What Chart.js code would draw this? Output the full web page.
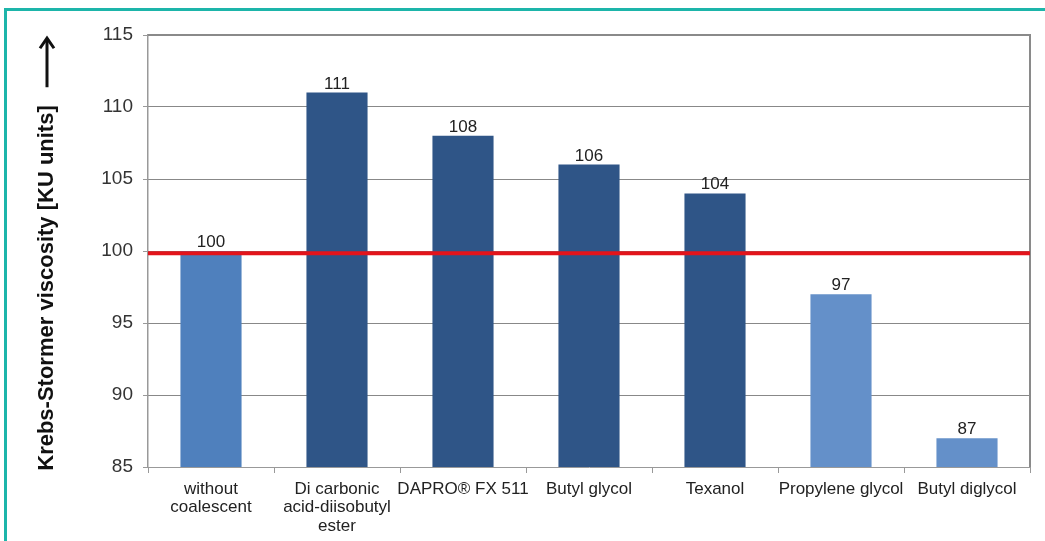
<!DOCTYPE html>
<html>
<head>
<meta charset="utf-8">
<script src="https://cdn.jsdelivr.net/npm/chart.js@4.4.1/dist/chart.umd.min.js"></script>
<style>
  html, body { margin: 0; padding: 0; background: #fff; }
  #wrap { position: relative; width: 1045px; height: 541px; }
  #frame { position: absolute; left: 4px; top: 8px; right: 0; bottom: 0;
           border-left: 3px solid #1db5aa; border-top: 3px solid #1db5aa; pointer-events: none; }
  canvas { position: absolute; left: 0; top: 0; }
</style>
</head>
<body>
<div id="wrap">
  <canvas id="viscChart" width="1045" height="541"></canvas>
  <div id="frame"></div>
</div>
<script>
// chart data
const categories = [
  ['without', 'coalescent'],
  ['Di carbonic', 'acid-diisobutyl', 'ester'],
  'DAPRO® FX 511',
  'Butyl glycol',
  'Texanol',
  'Propylene glycol',
  'Butyl diglycol'
];
const viscosity = [100, 111, 108, 106, 104, 97, 87];
const barColors = ['#4f80bd', '#2f5587', '#2f5587', '#2f5587', '#2f5587', '#6490c9', '#6490c9'];
const yTicks = [85, 90, 95, 100, 105, 110, 115];
const referenceValue = 99.85;
const yTitle = 'Krebs-Stormer viscosity [KU units]';

const FONT = '"Liberation Sans", Arial, sans-serif';

// value labels above bars
const barLabels = {
  id: 'barLabels',
  afterDatasetsDraw(chart) {
    const ctx = chart.ctx;
    const meta = chart.getDatasetMeta(0);
    ctx.save();
    ctx.font = '17px ' + FONT;
    ctx.fillStyle = '#222';
    ctx.textAlign = 'center';
    ctx.textBaseline = 'alphabetic';
    meta.data.forEach((bar, i) => {
      ctx.fillText(String(viscosity[i]), bar.x, bar.y - 4);
    });
    ctx.restore();
  }
};

// red reference line + top/right frame lines
const refLine = {
  id: 'refLine',
  afterDatasetsDraw(chart) {
    const ctx = chart.ctx;
    const area = chart.chartArea;
    const y = chart.scales.y.getPixelForValue(referenceValue);
    ctx.save();
    ctx.strokeStyle = '#8a8a8a';
    ctx.lineWidth = 2;
    ctx.beginPath();
    ctx.moveTo(area.left, area.top);
    ctx.lineTo(area.right, area.top);
    ctx.lineTo(area.right, area.bottom);
    ctx.stroke();
    ctx.strokeStyle = '#e3141b';
    ctx.lineWidth = 4;
    ctx.beginPath();
    ctx.moveTo(area.left, y);
    ctx.lineTo(area.right, y);
    ctx.stroke();
    ctx.restore();
  }
};

// rotated y title with arrow
const yTitlePlugin = {
  id: 'yTitle',
  afterDraw(chart) {
    const ctx = chart.ctx;
    const area = chart.chartArea;
    const midY = (area.top + area.bottom) / 2 + 3;
    ctx.save();
    ctx.translate(47, midY);
    ctx.rotate(-Math.PI / 2);
    ctx.font = 'bold 22px ' + FONT;
    ctx.fillStyle = '#111';
    ctx.textBaseline = 'middle';
    const w = ctx.measureText(yTitle).width;
    const arrowLen = 50, gap = 18;
    const total = w + gap + arrowLen;
    const start = -total / 2;
    ctx.textAlign = 'left';
    ctx.fillText(yTitle, start, 0);
    const ax0 = start + w + gap, ax1 = ax0 + arrowLen;
    ctx.strokeStyle = '#111';
    ctx.lineWidth = 3;
    ctx.beginPath();
    ctx.moveTo(ax0, 0);
    ctx.lineTo(ax1 - 2, 0);
    ctx.stroke();
    ctx.beginPath();
    ctx.moveTo(ax1 - 11, -7);
    ctx.lineTo(ax1 - 1, 0);
    ctx.lineTo(ax1 - 11, 7);
    ctx.stroke();
    ctx.restore();
  }
};

const ctx = document.getElementById('viscChart').getContext('2d');
const viscChart = new Chart(ctx, {
  type: 'bar',
  data: {
    labels: categories,
    datasets: [{
      label: 'Viscosity',
      data: viscosity,
      backgroundColor: barColors,
      borderWidth: 0,
      categoryPercentage: 1.0,
      barPercentage: 0.485
    }]
  },
  options: {
    responsive: false,
    animation: false,
    layout: { padding: { left: 0, top: 35, right: 15, bottom: 0 } },
    plugins: {
      legend: { display: false },
      tooltip: { enabled: false }
    },
    scales: {
      x: {
        afterFit(scale) { scale.height = 74; },
        grid: {
          drawOnChartArea: false,
          drawTicks: true,
          tickLength: 6,
          color: '#999',
          offset: true
        },
        border: { color: '#999', width: 1 },
        ticks: {
          color: '#222',
          padding: 7,
          maxRotation: 0,
          autoSkip: false,
          font: { family: FONT, size: 17, lineHeight: 1.08 }
        }
      },
      y: {
        min: 85,
        max: 115,
        afterFit(scale) { scale.width = 148; },
        afterBuildTicks(scale) { scale.ticks = yTicks.map(v => ({ value: v })); },
        grid: {
          color: c => c.tick && (c.tick.value === 85 || c.tick.value === 115) ? 'rgba(0,0,0,0)' : '#111',
          lineWidth: 1,
          tickColor: '#999',
          tickLength: 5
        },
        border: {
          color: '#999',
          width: 1.5,
          dash: [1, 1]
        },
        ticks: {
          color: '#333',
          padding: 10,
          font: { family: FONT, size: 19 }
        }
      }
    }
  },
  plugins: [barLabels, refLine, yTitlePlugin]
});
</script>
</body>
</html>
